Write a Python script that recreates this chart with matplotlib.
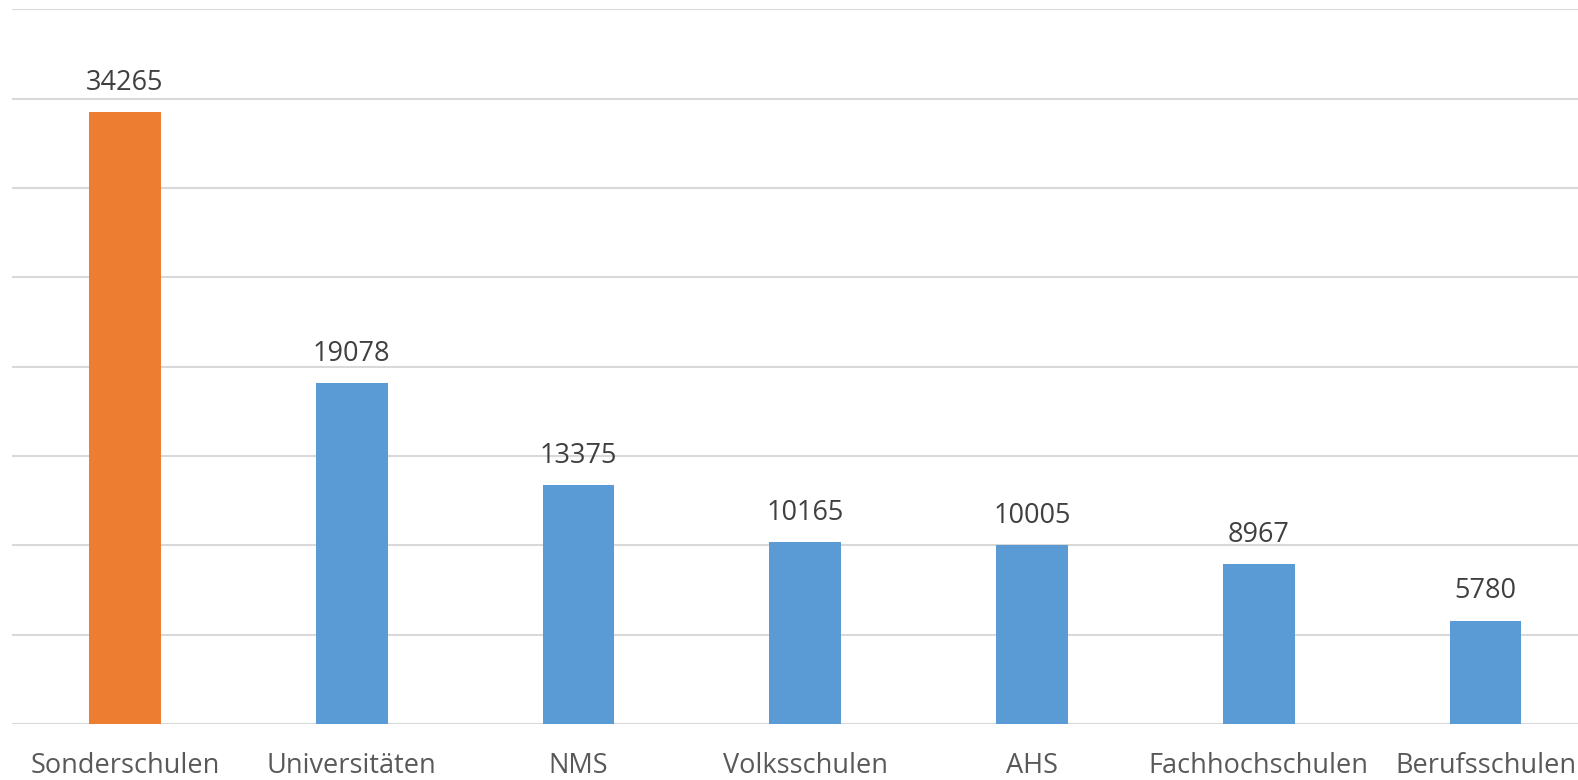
import matplotlib.pyplot as plt

categories = ['Sonderschulen', 'Universitäten', 'NMS', 'Volksschulen', 'AHS',
              'Fachhochschulen', 'Berufsschulen']
values = [34265, 19078, 13375, 10165, 10005, 8967, 5780]
colors = ['#ED7D31'] + ['#5B9BD5'] * 6

plt.rcParams['font.family'] = ['Open Sans', 'DejaVu Sans']

fig = plt.figure(figsize=(15.78, 7.8), dpi=100)
ax = fig.add_axes([11.6 / 1578, 56 / 780, 7 * 226.75 / 1578, (724 - 9.4) / 780])

x = range(len(categories))
bars = ax.bar(x, values, width=0.317, color=colors, zorder=3)
for xi, v in zip(x, values):
    ax.annotate(str(v), (xi, v), xytext=(0, 11), textcoords='offset points',
                ha='center', va='bottom', fontsize=19.5, color='#404040')

ax.set_xlim(-0.5, len(categories) - 0.5)
ax.set_ylim(0, 40000)
ax.set_yticks(range(0, 40001, 5000))
ax.yaxis.grid(True, color='#D9D9D9', linewidth=1.5, zorder=0)
ax.tick_params(axis='y', left=False, labelleft=False)
ax.set_xticks(list(x))
ax.set_xticklabels(categories, fontsize=19.5, color='#595959')
ax.tick_params(axis='x', length=0, pad=20)
for s in ['top', 'right', 'left', 'bottom']:
    ax.spines[s].set_visible(False)

fig.savefig('out.png', dpi=100)
